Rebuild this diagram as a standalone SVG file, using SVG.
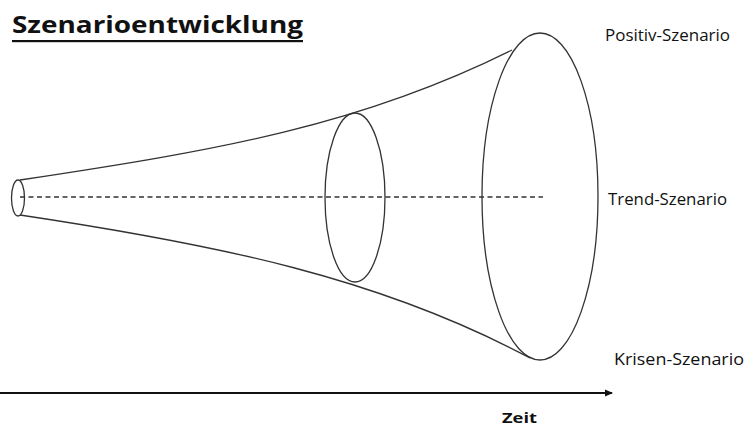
<svg xmlns="http://www.w3.org/2000/svg" width="747" height="427" viewBox="0 0 747 427">
<style>
.ln{fill:none;stroke:#333;stroke-width:1.3}
.dash{fill:none;stroke:#333;stroke-width:1.3;stroke-dasharray:5,3.5}
.lbl{font-family:"Open Sans","Liberation Sans",sans-serif;font-size:16.5px;fill:#111}
.bold{font-family:"Open Sans","Liberation Sans",sans-serif;font-weight:bold;fill:#111}
</style>
<defs>
<marker id="ah" markerWidth="8" markerHeight="8" refX="7" refY="4" orient="auto" markerUnits="userSpaceOnUse">
<path d="M0,0.5 L8,4 L0,7.5 Z" fill="#111"/>
</marker>
</defs>
<rect width="747" height="427" fill="#fff"/>
<g id="title">
<text class="bold" x="12" y="33" font-size="24" textLength="291" lengthAdjust="spacingAndGlyphs">Szenarioentwicklung</text>
<rect x="12" y="40" width="291" height="2.2" fill="#111"/>
</g>
<g id="connectors">
<path class="ln" d="M20,180 C220,150 362,125 512,50"/>
<path class="ln" d="M20,215 C220,245 380,278 530,358"/>
<line class="dash" x1="20" y1="197" x2="543" y2="197"/>
<line x1="0" y1="393" x2="612" y2="393" stroke="#111" stroke-width="2" marker-end="url(#ah)"/>
</g>
<g id="ellipse-start">
<ellipse class="ln" cx="18" cy="198" rx="6.5" ry="18"/>
</g>
<g id="ellipse-mid">
<ellipse class="ln" cx="355" cy="197.5" rx="30" ry="84.5"/>
</g>
<g id="ellipse-end">
<ellipse class="ln" cx="540" cy="196.5" rx="58" ry="163.5"/>
</g>
<g id="label-positiv">
<text class="lbl" x="605" y="41" textLength="125" lengthAdjust="spacingAndGlyphs">Positiv-Szenario</text>
</g>
<g id="label-trend">
<text class="lbl" x="608" y="205" textLength="119" lengthAdjust="spacingAndGlyphs">Trend-Szenario</text>
</g>
<g id="label-krisen">
<text class="lbl" x="614" y="365" textLength="130" lengthAdjust="spacingAndGlyphs">Krisen-Szenario</text>
</g>
<g id="label-zeit">
<text class="bold" x="502" y="423" font-size="15" textLength="35" lengthAdjust="spacingAndGlyphs">Zeit</text>
</g>
</svg>
